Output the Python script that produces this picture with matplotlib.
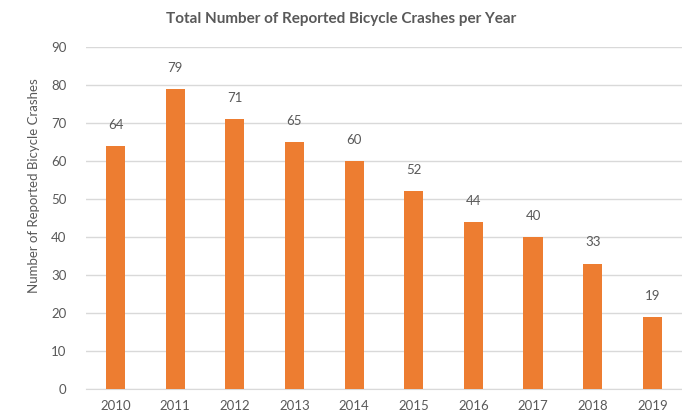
import matplotlib.pyplot as plt
import numpy as np

years = ['2010', '2011', '2012', '2013', '2014', '2015', '2016', '2017', '2018', '2019']
crashes = [64, 79, 71, 65, 60, 52, 44, 40, 33, 19]

plt.rcParams['font.family'] = ['Lato', 'DejaVu Sans']
grey = '#595959'

fig = plt.figure(figsize=(6.82, 4.17), dpi=100)
ax = fig.add_axes([0.1257, 0.067, 0.8745, 0.82])

x = np.arange(len(years))
ax.bar(x, crashes, width=0.32, color='#ED7D31', zorder=3)
for xi, v in zip(x, crashes):
    ax.text(xi, v + 4, str(v), ha='center', va='bottom', fontsize=9.5, color=grey)

ax.set_xlim(-0.5, len(years) - 0.5)
ax.set_ylim(0, 90)
ax.set_yticks(range(0, 91, 10))
ax.set_xticks(x)
ax.set_xticklabels(years)
ax.yaxis.grid(True, color='#D9D9D9', linewidth=1, zorder=0)
for s in ['top', 'right', 'left']:
    ax.spines[s].set_visible(False)
ax.spines['bottom'].set_color('#D9D9D9')
ax.tick_params(axis='both', length=0, labelsize=9.5, colors=grey)
ax.tick_params(axis='x', pad=8)
ax.tick_params(axis='y', pad=14)
ax.set_ylabel('Number of Reported Bicycle Crashes', fontsize=9.5, color=grey)
ax.yaxis.set_label_coords(-0.076, 0.594)

fig.text(0.5, 0.955, 'Total Number of Reported Bicycle Crashes per Year', ha='center', va='center',
         fontsize=11, fontweight='bold', color=grey)

fig.savefig('out.png', dpi=100)
